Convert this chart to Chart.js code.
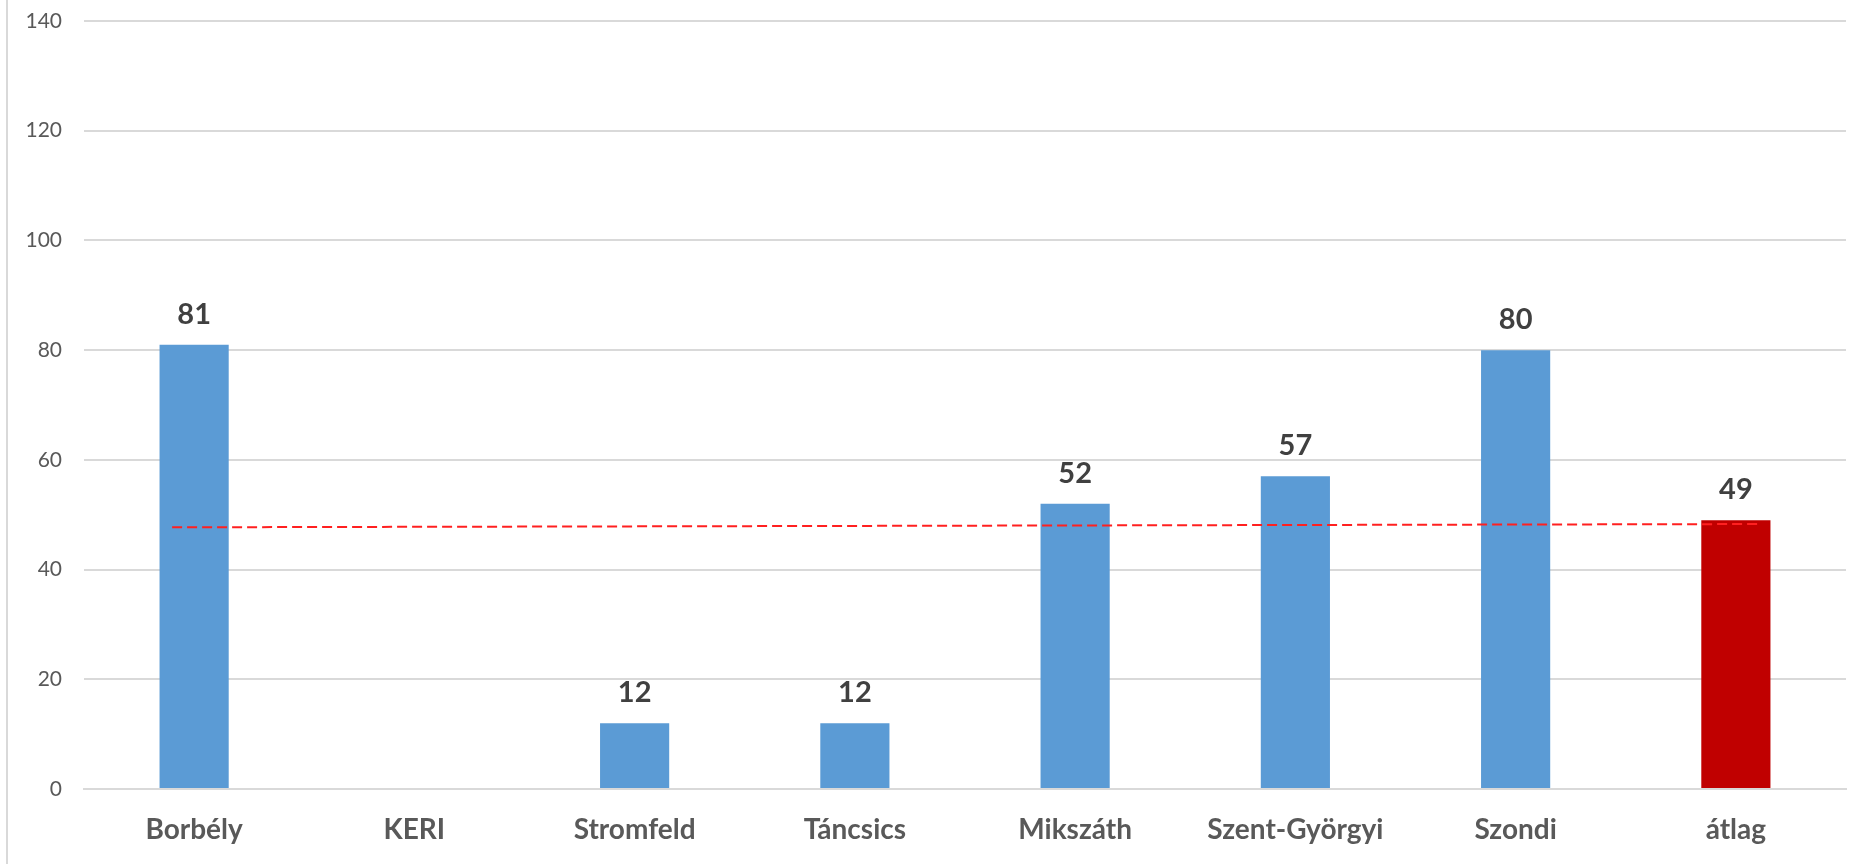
<!DOCTYPE html>
<html>
<head>
<meta charset="utf-8">
<script src="https://cdn.jsdelivr.net/npm/chart.js@4.4.1/dist/chart.umd.min.js"></script>
<style>
  html, body { margin: 0; padding: 0; background: #fff; }
  #wrap { position: relative; width: 1872px; height: 864px; }
  #edge { position: absolute; left: 6px; top: 0; width: 2px; height: 864px; background: #d9d9d9; }
  canvas { position: absolute; left: 0; top: 0; }
</style>
</head>
<body>
<div id="wrap"><div id="edge"></div><canvas id="c" width="1872" height="864"></canvas></div>
<script>
const categories = ['Borbély', 'KERI', 'Stromfeld', 'Táncsics', 'Mikszáth', 'Szent-Györgyi', 'Szondi', 'átlag'];
const values = [81, null, 12, 12, 52, 57, 80, 49];
const barColors = ['#5B9BD5', '#5B9BD5', '#5B9BD5', '#5B9BD5', '#5B9BD5', '#5B9BD5', '#5B9BD5', '#C00000'];
// dashed trend line (x in category index units)
const trendX = [-0.1, 7.1];
const trendY = [47.7, 48.3];
const yTicks = [0, 20, 40, 60, 80, 100, 120, 140];

const trendData = trendX.map((x, i) => ({ x: x, y: trendY[i] }));

const labelPlugin = {
  id: 'barLabels',
  afterDatasetsDraw(chart) {
    const ctx = chart.ctx;
    const meta = chart.getDatasetMeta(0);
    ctx.save();
    ctx.font = 'bold 29px Lato';
    ctx.fillStyle = '#404040';
    ctx.textAlign = 'center';
    ctx.textBaseline = 'alphabetic';
    meta.data.forEach((bar, i) => {
      const v = values[i];
      if (v === null || v === undefined) return;
      ctx.fillText(String(v), bar.x, bar.y - 21);
    });
    ctx.restore();
  }
};

new Chart(document.getElementById('c'), {
  type: 'bar',
  data: {
    labels: categories,
    datasets: [
      {
        type: 'bar',
        data: values,
        backgroundColor: barColors,
        barPercentage: 0.314,
        categoryPercentage: 1.0,
        grouped: false,
        xAxisID: 'x',
        yAxisID: 'y',
        order: 2
      },
      {
        type: 'line',
        data: trendData,
        borderColor: '#FF2020',
        borderWidth: 2,
        borderDash: [10, 5],
        pointRadius: 0,
        fill: false,
        tension: 0,
        xAxisID: 'x2',
        yAxisID: 'y',
        order: 1
      }
    ]
  },
  options: {
    responsive: false,
    animation: false,
    devicePixelRatio: 1,
    layout: { padding: { top: 21, right: 26, left: 0, bottom: 0 } },
    plugins: { legend: { display: false }, tooltip: { enabled: false } },
    scales: {
      x: {
        type: 'category',
        offset: true,
        grid: { display: false, drawTicks: false },
        border: { display: true, color: '#d9d9d9', width: 2 },
        ticks: {
          font: { family: 'Lato', size: 28, weight: 'bold' },
          color: '#595959',
          padding: 24,
          maxRotation: 0,
          autoSkip: false
        },
        afterFit(scale) { scale.height = 75; scale.paddingLeft = 0; scale.paddingRight = 0; }
      },
      x2: {
        type: 'linear',
        position: 'top',
        display: true,
        offset: false,
        min: -0.5,
        max: 7.5,
        grid: { display: false, drawTicks: false, offset: false },
        border: { display: false },
        ticks: { display: false },
        afterFit(scale) { scale.height = 0; scale.paddingLeft = 0; scale.paddingRight = 0; }
      },
      y: {
        min: 0,
        max: 140,
        afterBuildTicks(scale) { scale.ticks = yTicks.map(v => ({ value: v })); },
        grid: { color: '#d9d9d9', lineWidth: 2, drawTicks: false },
        border: { display: false },
        ticks: {
          font: { family: 'Lato', size: 21 },
          color: '#595959',
          padding: 22
        },
        afterFit(scale) { scale.width = 84; scale.paddingTop = 0; scale.paddingBottom = 0; }
      }
    }
  },
  plugins: [labelPlugin]
});
</script>
</body>
</html>
